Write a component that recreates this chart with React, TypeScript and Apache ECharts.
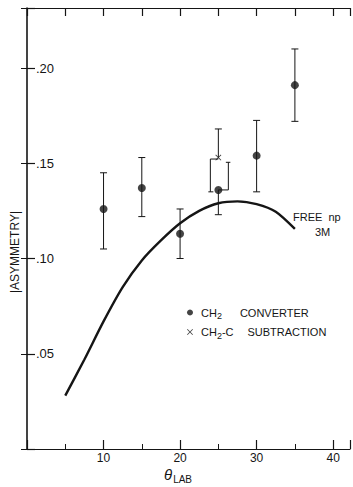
import React, { useEffect, useRef } from "react";
import * as echarts from "echarts";

// ---- data ----
const dotAngle = [10, 15, 20, 25, 30, 35];
const dotAsym = [0.126, 0.137, 0.113, 0.136, 0.154, 0.191];
const dotLow = [0.105, 0.122, 0.1, 0.123, 0.135, 0.172];
const dotHigh = [0.145, 0.153, 0.126, 0.1505, 0.1725, 0.21];

const crossAngle = [25];
const crossAsym = [0.153];
const crossLow = [0.135];
const crossHigh = [0.168];

const curveAngle = [5, 7.5, 10, 12.5, 15, 17.5, 20, 22.5, 25, 27.5, 30, 32.5, 35];
const curveAsym = [0.028, 0.047, 0.067, 0.085, 0.099, 0.1095, 0.1185, 0.125, 0.129, 0.13, 0.1285, 0.1245, 0.1155];

const xTicks = [10, 20, 30, 40];
const yTicks = [0.05, 0.1, 0.15, 0.2];

const FONT = "'Liberation Sans', Arial, sans-serif";
const INK = "#151515";
const X_PATH =
  "path://M1,0 L5,4 L9,0 L10,1 L6,5 L10,9 L9,10 L5,6 L1,10 L0,9 L4,5 L0,1 Z";

const DOT_NAME = "CH2 CONVERTER";
const CROSS_NAME = "CH2-C SUBTRACTION";

function makeErrorRender(kind: "dot" | "cross") {
  return (params: any, api: any) => {
    const x = api.value(0);
    const lo = api.value(1);
    const hi = api.value(2);
    const y = api.value(3);
    const pLo = api.coord([x, lo]);
    const pHi = api.coord([x, hi]);
    const pY = api.coord([x, y]);
    const cap = 3.5;
    const st = { stroke: INK, lineWidth: 1 };
    const ln = (x1: number, y1: number, x2: number, y2: number) => ({
      type: "line",
      shape: { x1, y1, x2, y2 },
      style: st,
    });
    const overlap =
      kind === "dot" ? crossAngle.includes(x) : dotAngle.includes(x);
    const children: any[] = [];
    if (!overlap) {
      children.push(ln(pLo[0], pLo[1], pHi[0], pHi[1]));
      children.push(ln(pLo[0] - cap, pLo[1], pLo[0] + cap, pLo[1]));
      children.push(ln(pHi[0] - cap, pHi[1], pHi[0] + cap, pHi[1]));
    } else if (kind === "dot") {
      // lower half centred, upper half shifted right as a bracket
      children.push(ln(pY[0], pY[1], pLo[0], pLo[1]));
      children.push(ln(pLo[0] - cap, pLo[1], pLo[0] + cap, pLo[1]));
      const sx = pY[0] + 10;
      children.push(ln(pY[0], pY[1], sx, pY[1]));
      children.push(ln(sx, pY[1], sx, pHi[1]));
      children.push(ln(sx - 2.5, pHi[1], sx + 2, pHi[1]));
    } else {
      // upper half centred, lower half shifted left as a bracket
      children.push(ln(pY[0], pY[1], pHi[0], pHi[1]));
      children.push(ln(pHi[0] - cap, pHi[1], pHi[0] + cap, pHi[1]));
      const sx = pY[0] - 8;
      children.push(ln(pY[0], pY[1] + 1.5, sx, pY[1] + 1.5));
      children.push(ln(sx, pY[1] + 1.5, sx, pLo[1]));
      children.push(ln(sx - 2, pLo[1], sx + 3, pLo[1]));
    }
    return { type: "group", children };
  };
}

export default function App() {
  const ref = useRef<HTMLDivElement>(null);
  useEffect(() => {
    if (!ref.current) return;
    const chart = echarts.init(ref.current, undefined, { renderer: "svg" });
    const xMin = 0;
    const xMax = 42.2;
    const yMin = 0;
    const yMax = 0.2315;
    const option: any = {
      animation: false,
      backgroundColor: "#ffffff",
      textStyle: { fontFamily: FONT },
      grid: { left: 27, right: 0, top: 8, bottom: 38 },
      xAxis: [
        {
          type: "value",
          position: "bottom",
          min: xMin,
          max: xMax,
          interval: 10,
          axisLine: { show: true, onZero: false, lineStyle: { color: INK, width: 1.2 } },
          axisTick: { show: true, inside: true, length: 9, lineStyle: { color: INK, width: 1.2 } },
          minorTick: { show: true, splitNumber: 2, length: 5, lineStyle: { color: INK, width: 1 } },
          axisLabel: {
            show: true,
            margin: 3,
            color: INK,
            fontSize: 12,
            fontFamily: FONT,
            formatter: (v: number) => (xTicks.includes(v) ? String(v) : ""),
          },
          splitLine: { show: false },
        },
        {
          type: "value",
          position: "top",
          min: xMin,
          max: xMax,
          interval: 5,
          axisLine: { show: true, onZero: false, lineStyle: { color: INK, width: 1 } },
          axisTick: { show: true, inside: true, length: 8, lineStyle: { color: INK, width: 1.2 } },
          axisLabel: { show: false },
          splitLine: { show: false },
        },
      ],
      yAxis: [
        {
          type: "value",
          position: "left",
          min: yMin,
          max: yMax,
          interval: 0.05,
          axisLine: { show: true, onZero: false, lineStyle: { color: INK, width: 1.6 } },
          axisTick: { show: true, inside: true, length: 8, lineStyle: { color: INK, width: 1.2 } },
          axisLabel: {
            show: true,
            inside: true,
            margin: 9,
            color: INK,
            fontSize: 13,
            fontFamily: FONT,
            formatter: (v: number) => {
              const hit = yTicks.find((t) => Math.abs(t - v) < 1e-6);
              if (hit === undefined) return "";
              return "." + String(Math.round(hit * 100)).padStart(2, "0");
            },
          },
          splitLine: { show: false },
        },
        {
          type: "value",
          position: "right",
          min: yMin,
          max: yMax,
          interval: 0.05,
          axisLine: { show: false },
          axisTick: { show: true, inside: true, length: 6, lineStyle: { color: INK, width: 1 } },
          axisLabel: { show: false },
          splitLine: { show: false },
        },
      ],
      legend: {
        orient: "vertical",
        left: 182,
        top: 302,
        itemWidth: 12,
        itemHeight: 6,
        itemGap: 6,
        selectedMode: false,
        data: [
          { name: DOT_NAME, icon: "circle" },
          { name: CROSS_NAME, icon: X_PATH },
        ],
        formatter: (name: string) =>
          name === DOT_NAME
            ? "CH{sub|2}{gap1|CONVERTER}"
            : "CH{sub|2}-C{gap2|SUBTRACTION}",
        textStyle: {
          color: INK,
          fontSize: 11,
          fontFamily: FONT,
          rich: {
            sub: { fontSize: 9, fontFamily: FONT, color: INK, padding: [7, 0, 0, 0] },
            gap1: { fontSize: 11, fontFamily: FONT, color: INK, padding: [0, 0, 0, 18] },
            gap2: { fontSize: 11, fontFamily: FONT, color: INK, padding: [0, 0, 0, 14] },
          },
        },
      },
      graphic: [
        {
          type: "text",
          x: 15,
          y: 252,
          rotation: Math.PI / 2,
          style: {
            text: "|ASYMMETRY|",
            fontFamily: FONT,
            fontSize: 12,
            fill: INK,
            align: "center",
            verticalAlign: "middle",
          },
        },
        {
          type: "text",
          x: 164,
          y: 465,
          style: {
            text: "{t|θ}{s|LAB}",
            fontFamily: FONT,
            fill: INK,
            rich: {
              t: { fontSize: 15, fontStyle: "italic", fontFamily: FONT, fill: INK },
              s: { fontSize: 10, fontFamily: FONT, fill: INK, padding: [9, 0, 0, 1] },
            },
          },
        },
        {
          type: "text",
          x: 293,
          y: 211,
          style: { text: "FREE  np", fontFamily: FONT, fontSize: 11, fill: INK },
        },
        {
          type: "text",
          x: 315,
          y: 226,
          style: { text: "3M", fontFamily: FONT, fontSize: 11, fill: INK },
        },
      ],
      series: [
        {
          name: "FREE np 3M",
          type: "line",
          smooth: 0.25,
          showSymbol: false,
          data: curveAngle.map((a, i) => [a, curveAsym[i]]),
          lineStyle: { color: INK, width: 2.4 },
          z: 2,
        },
        {
          name: "dotErr",
          type: "custom",
          renderItem: makeErrorRender("dot"),
          data: dotAngle.map((a, i) => [a, dotLow[i], dotHigh[i], dotAsym[i]]),
          encode: { x: 0, y: [1, 2] },
          z: 3,
        },
        {
          name: "crossErr",
          type: "custom",
          renderItem: makeErrorRender("cross"),
          data: crossAngle.map((a, i) => [a, crossLow[i], crossHigh[i], crossAsym[i]]),
          encode: { x: 0, y: [1, 2] },
          z: 3,
        },
        {
          name: DOT_NAME,
          type: "scatter",
          symbol: "circle",
          symbolSize: 8,
          itemStyle: { color: INK },
          data: dotAngle.map((a, i) => [a, dotAsym[i]]),
          z: 4,
        },
        {
          name: CROSS_NAME,
          type: "scatter",
          symbol: X_PATH,
          symbolSize: 6,
          itemStyle: { color: INK },
          data: crossAngle.map((a, i) => [a, crossAsym[i]]),
          z: 4,
        },
      ],
    };
    chart.setOption(option);
    return () => chart.dispose();
  }, []);
  return (
    <div
      ref={ref}
      style={{ position: "absolute", left: 0, top: 0, width: 353, height: 487, background: "#fff" }}
    />
  );
}
